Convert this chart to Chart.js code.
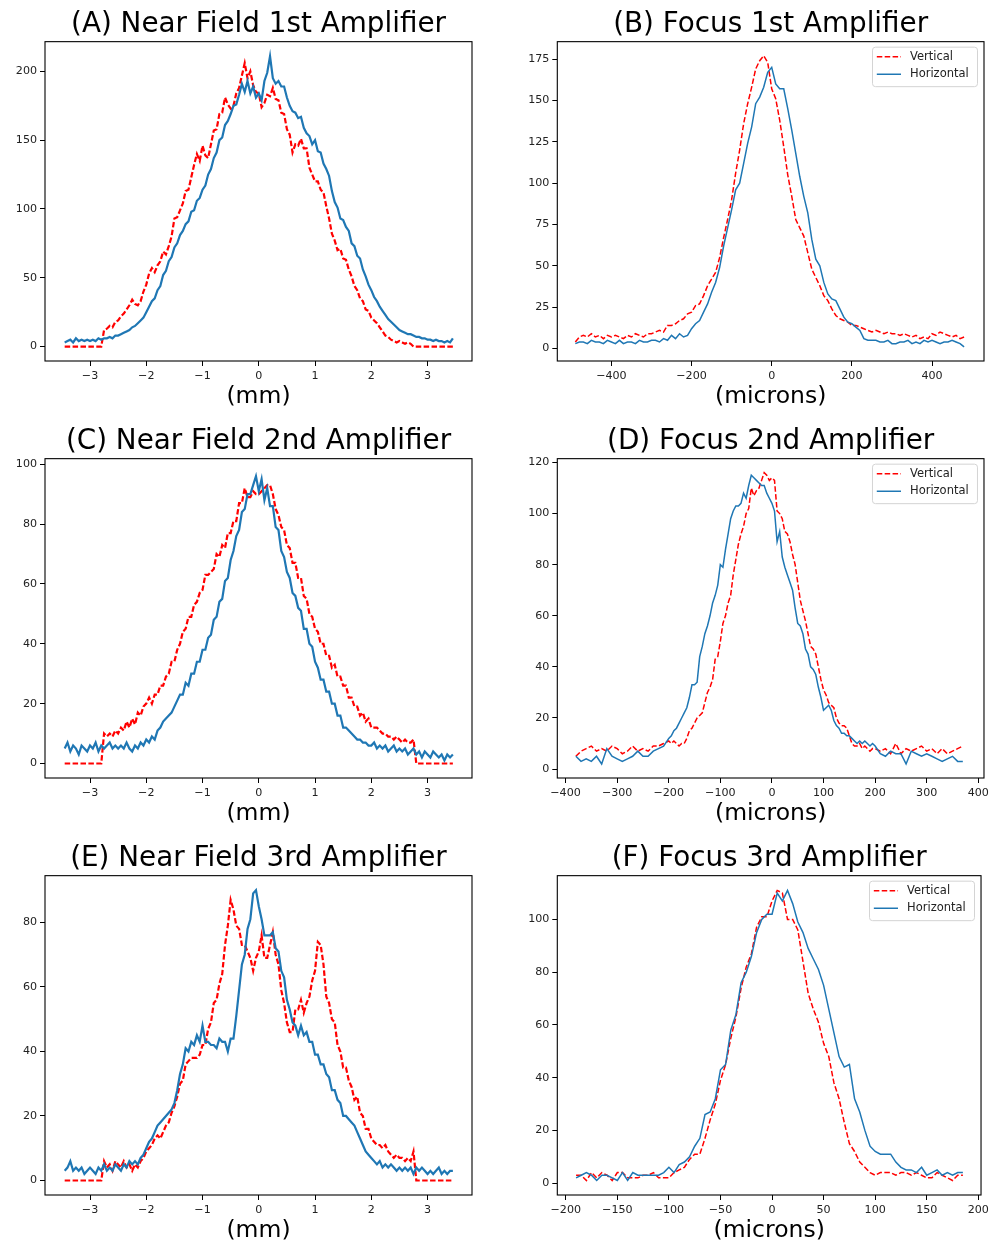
<!DOCTYPE html>
<html>
<head>
<meta charset="utf-8">
<script src="https://cdn.jsdelivr.net/npm/chart.js@4.4.1/dist/chart.umd.min.js"></script>
<style>
  html, body { margin: 0; padding: 0; background: #fff; }
  body { width: 992px; height: 1245px; overflow: hidden; position: relative; }
  canvas { position: absolute; }
</style>
</head>
<body>
<canvas id="pA"></canvas>
<canvas id="pB"></canvas>
<canvas id="pC"></canvas>
<canvas id="pD"></canvas>
<canvas id="pE"></canvas>
<canvas id="pF"></canvas>
<script>
// Beam profiles: near field (mm) and focus (microns) after each amplifier.
// Values.

const nearX = [
  -3.45,-3.4,-3.35,-3.3,-3.25,-3.2,-3.15,-3.1,-3.05,-3,
  -2.95,-2.9,-2.85,-2.8,-2.75,-2.7,-2.65,-2.6,-2.55,-2.5,
  -2.45,-2.4,-2.35,-2.3,-2.25,-2.2,-2.15,-2.1,-2.05,-2,
  -1.95,-1.9,-1.85,-1.8,-1.75,-1.7,-1.65,-1.6,-1.55,-1.5,
  -1.45,-1.4,-1.35,-1.3,-1.25,-1.2,-1.15,-1.1,-1.05,-1,
  -0.95,-0.9,-0.85,-0.8,-0.75,-0.7,-0.65,-0.6,-0.55,-0.5,
  -0.45,-0.4,-0.35,-0.3,-0.25,-0.2,-0.15,-0.1,-0.05,0,
  0.05,0.1,0.15,0.2,0.25,0.3,0.35,0.4,0.45,0.5,
  0.55,0.6,0.65,0.7,0.75,0.8,0.85,0.9,0.95,1,
  1.05,1.1,1.15,1.2,1.25,1.3,1.35,1.4,1.45,1.5,
  1.55,1.6,1.65,1.7,1.75,1.8,1.85,1.9,1.95,2,
  2.05,2.1,2.15,2.2,2.25,2.3,2.35,2.4,2.45,2.5,
  2.55,2.6,2.65,2.7,2.75,2.8,2.85,2.9,2.95,3,
  3.05,3.1,3.15,3.2,3.25,3.3,3.35,3.4,3.45
];

// (A) Near Field 1st Amplifier
const nearA_V = [
  0,0,0,0,0,0,0,0,0,0,
  0,0,0,0,12,13,15,14,18,19,
  22,24,27,30,34,31,30,33,40,45,
  53,57,54,59,62,69,67,73,80,93,
  94,99,104,113,114,123,132,140,135,146,
  139,137,147,157,158,169,170,181,176,173,
  175,184,188,197,206,195,200,190,185,184,
  174,177,183,182,188,180,179,170,169,158,
  154,141,147,146,151,144,144,130,125,120,
  120,114,112,102,93,82,77,70,71,64,
  63,56,51,44,41,35,33,27,26,21,
  19,17,14,11,8,7,5,4,3,4,
  3,2,3,2,0,0,0,0,0,0,
  0,0,0,0,0,0,0,0,0
];
const nearA_H = [
  3,4,5,3,6,4,5,4,5,4,
  5,4,6,5,6,6,7,6,8,8,
  9,10,11,12,14,15,17,19,21,25,
  29,33,35,41,44,52,55,62,65,72,
  75,81,84,89,91,98,99,106,108,114,
  117,125,129,137,141,150,152,161,164,169,
  175,176,183,191,185,193,184,189,181,184,
  179,193,199,211,195,191,193,189,189,181,
  175,171,170,166,167,159,155,153,147,150,
  142,141,133,129,124,113,105,101,93,92,
  87,84,75,73,66,64,56,51,45,41,
  36,33,29,26,23,20,18,16,14,12,
  11,10,9,9,8,7,7,6,6,5,
  5,4,5,4,4,3,4,3,6
];

// (C) Near Field 2nd Amplifier
const nearC_V = [
  0,0,0,0,0,0,0,0,0,0,
  0,0,0,0,10,9,10,9,11,10,
  12,11,14,12,15,13,17,16,19,20,
  22,20,23,23,26,26,29,30,34,34,
  38,40,44,45,49,49,53,54,57,58,
  63,63,64,65,70,69,73,72,77,77,
  81,81,87,87,92,89,89,91,90,90,
  91,92,93,93,90,85,83,79,78,73,
  72,67,67,62,62,56,55,50,49,45,
  44,40,40,36,36,32,33,29,29,26,
  26,22,22,19,19,16,17,14,15,12,
  12,12,11,10,10,9,9,8,9,8,
  7,8,7,7,8,0,0,0,0,0,
  0,0,0,0,0,0,0,0,0
];
const nearC_H = [
  5,7,4,6,5,3,6,5,4,6,
  5,7,4,6,5,6,7,5,6,5,
  6,5,7,5,4,6,5,7,6,8,
  7,9,8,11,12,14,15,16,17,19,
  21,23,23,27,26,30,30,34,34,38,
  38,42,43,48,49,54,55,61,62,68,
  71,76,78,84,85,90,90,93,96,91,
  95,88,92,86,86,79,78,71,69,64,
  62,57,56,52,51,45,45,40,39,34,
  32,28,28,24,24,20,20,16,16,12,
  12,11,10,9,8,8,7,7,6,6,
  7,5,6,5,6,4,5,6,4,5,
  4,5,3,4,5,3,4,2,4,3,
  2,4,3,2,3,1,3,2,3
];

// (E) Near Field 3rd Amplifier
const nearE_V = [
  0,0,0,0,0,0,0,0,0,0,
  0,0,0,0,6,4,5,3,6,5,
  4,6,4,5,3,5,4,6,7,9,
  10,11,13,14,13,15,17,18,21,23,
  26,30,31,36,37,38,38,38,39,42,
  42,47,49,55,56,61,64,73,79,87,
  84,79,78,73,73,71,69,65,69,71,
  76,69,69,73,77,70,67,59,55,49,
  46,46,53,53,56,52,55,57,62,65,
  74,73,67,57,55,50,49,42,40,35,
  35,31,29,25,26,21,20,16,16,13,
  12,11,11,10,11,9,8,7,8,7,
  7,6,7,6,9,0,0,0,0,0,
  0,0,0,0,0,0,0,0,0
];
const nearE_H = [
  3,4,6,3,4,3,4,2,3,4,
  3,2,4,3,5,3,4,3,5,4,
  3,5,4,6,5,6,5,7,8,10,
  12,13,15,17,18,19,20,21,22,24,
  28,33,36,41,40,43,42,45,43,48,
  43,43,42,42,41,44,43,43,40,44,
  44,51,59,67,70,78,81,89,90,85,
  81,76,76,76,77,72,71,65,63,56,
  53,49,48,45,48,45,46,43,43,39,
  39,36,36,33,32,28,28,25,24,20,
  20,19,18,17,15,13,11,9,8,7,
  6,5,6,4,5,4,5,4,3,4,
  3,4,3,4,2,4,3,4,3,2,
  3,2,3,4,2,3,2,3,3
];

// (B) Focus 1st Amplifier
const focusB_X = [
  -490,-480,-470,-460,-450,-440,-430,-420,-410,-400,
  -390,-380,-370,-360,-350,-340,-330,-320,-310,-300,
  -290,-280,-270,-260,-250,-240,-230,-220,-210,-200,
  -190,-180,-170,-160,-150,-140,-130,-120,-110,-100,
  -90,-80,-70,-60,-50,-40,-30,-20,-10,0,
  10,20,30,40,50,60,70,80,90,100,
  110,120,130,140,150,160,170,180,190,200,
  210,220,230,240,250,260,270,280,290,300,
  310,320,330,340,350,360,370,380,390,400,
  410,420,430,440,450,460,470,480
];
const focusB_V = [
  4,7,8,7,9,7,8,6,8,7,
  8,7,6,8,7,9,8,7,9,9,
  10,11,10,14,14,15,17,18,21,22,
  26,27,32,38,42,46,55,67,78,90,
  106,120,136,148,158,169,174,177,173,157,
  151,138,122,105,92,78,73,68,58,48,
  43,38,32,29,24,20,18,17,16,14,
  14,13,12,11,10,11,10,9,10,9,
  9,8,9,8,7,8,6,7,6,9,
  8,10,9,8,7,8,6,7
];
const focusB_H = [
  3,4,4,3,5,4,4,3,5,4,
  3,5,3,4,4,3,5,4,4,5,
  5,4,6,5,8,6,9,7,8,12,
  15,17,22,27,34,40,49,62,73,84,
  96,100,112,124,134,148,152,158,167,170,
  160,157,157,145,132,118,104,92,82,66,
  54,50,40,33,30,29,24,19,16,15,
  13,11,6,5,5,5,4,4,5,3,
  3,4,4,5,3,4,3,5,4,5,
  4,3,4,4,5,4,3,1
];

// (D) Focus 2nd Amplifier
const focusD_X = [
  -380,-370,-360,-350,-340,-330,-320,-310,-300,-290,-280,-270,-260,-250,-240,-230,-220,-210,-200,
  -195,-190,-185,-180,-175,-170,-165,-160,-155,-150,
  -145,-140,-135,-130,-125,-120,-115,-110,-105,-100,
  -95,-90,-85,-80,-75,-70,-65,-60,-55,-50,
  -45,-40,-35,-30,-25,-20,-15,-10,-5,0,
  5,10,15,20,25,30,35,40,45,50,
  55,60,65,70,75,80,85,90,95,100,
  105,110,115,120,125,130,135,140,145,150,
  155,160,165,170,175,180,185,190,195,
  200,210,220,230,240,250,260,270,280,290,300,310,320,330,340,350,360,370
];
const focusD_V = [
  5,7,8,9,7,8,7,9,8,6,7,9,7,8,7,9,9,10,11,
  10,11,10,9,10,10,12,15,16,18,
  20,21,22,26,30,32,35,43,44,50,
  57,60,65,68,76,82,88,92,95,100,
  102,110,107,109,110,113,116,115,113,114,
  113,101,100,98,93,92,89,84,80,73,
  66,62,58,53,48,47,45,40,35,31,
  29,26,25,24,20,18,17,17,16,13,
  10,9,9,10,8,9,8,7,8,
  8,7,8,6,10,6,8,7,8,9,7,8,6,8,6,7,8,9
];
const focusD_H = [
  5,3,4,3,5,2,8,5,4,3,4,5,7,5,5,7,8,9,12,
  13,15,16,18,20,22,24,28,33,33,
  34,44,48,53,56,60,65,68,72,80,
  79,86,92,98,101,103,103,104,108,106,
  111,115,114,113,112,111,111,108,106,104,
  101,89,93,83,79,76,73,70,63,57,
  56,53,47,45,40,39,37,32,28,23,
  24,25,23,19,17,16,14,14,13,13,
  12,11,10,11,10,11,10,9,10,
  9,6,5,7,6,6,2,7,6,5,6,5,4,3,4,5,3,3
];

// (F) Focus 3rd Amplifier
const focusF_X = [
  -190,-185,-180,-175,-170,-165,-160,-155,-150,-145,
  -140,-135,-130,-125,-120,-115,-110,-105,-100,-95,
  -90,-85,-80,-75,-70,-65,-60,-55,-50,-45,
  -40,-35,-30,-25,-20,-15,-10,-5,0,5,
  10,15,20,25,30,35,40,45,50,55,
  60,65,70,75,80,85,90,95,100,105,
  110,115,120,125,130,135,140,145,150,155,
  160,165,170,175,180,185
];
const focusF_V = [
  3,3,1,4,2,4,3,1,4,4,
  2,2,2,3,3,4,2,2,2,4,
  5,6,9,11,11,17,24,30,39,45,
  55,63,74,82,87,97,101,101,107,111,
  110,100,100,96,84,72,66,61,53,48,
  38,32,23,15,12,8,6,4,3,4,
  4,4,3,4,4,3,4,3,2,2,
  4,3,2,1,3,3
];
const focusF_H = [
  2,3,4,3,1,3,3,2,1,4,
  1,4,3,3,3,3,3,4,6,4,
  7,8,10,14,17,26,27,32,43,45,
  58,64,76,80,86,95,100,102,102,110,
  107,111,106,99,95,89,85,81,75,66,
  57,48,44,45,32,27,20,14,12,11,
  11,11,8,6,5,5,4,6,3,4,
  5,3,4,3,4,4
];

// tick labels
const nearXTicks = [-3, -2, -1, 0, 1, 2, 3];
const aYTicks = [0, 50, 100, 150, 200];
const cYTicks = [0, 20, 40, 60, 80, 100];
const eYTicks = [0, 20, 40, 60, 80];
const bXTicks = [-400, -200, 0, 200, 400];
const bYTicks = [0, 25, 50, 75, 100, 125, 150, 175];
const dXTicks = [-400, -300, -200, -100, 0, 100, 200, 300, 400];
const dYTicks = [0, 20, 40, 60, 80, 100, 120];
const fXTicks = [-200, -150, -100, -50, 0, 50, 100, 150, 200];
const fYTicks = [0, 20, 40, 60, 80, 100];

const fontFamily = "'DejaVu Sans', sans-serif";
const red  = '#ff0000';
const blue = '#1f77b4';
const inkColor = '#222';

Chart.defaults.font.family = fontFamily;
Chart.defaults.color = inkColor;

const fmt = v => (v < 0 ? '\u2212' + Math.abs(v) : String(v));

// matplotlib-style box round the axes
const framePlugin = {
    id: 'frame',
    afterDatasetsDraw(chart) {
        const { ctx, chartArea: a } = chart;
        ctx.save();
        ctx.strokeStyle = '#000';
        ctx.lineWidth = 1.1;
        ctx.strokeRect(a.left, a.top, a.right - a.left, a.bottom - a.top);
        ctx.restore();
    }
};

// small legend in the upper right corner, line samples like matplotlib
const legendPlugin = {
    id: 'mplLegend',
    afterDraw(chart, args, opts) {
        if (!opts.show) return;
        const { ctx, chartArea: a } = chart;
        const w = 105, h = 39.5;
        const x0 = a.right - 6.5 - w, y0 = a.top + 5.5;
        ctx.save();
        ctx.beginPath();
        ctx.roundRect(x0, y0, w, h, 3);
        ctx.fillStyle = 'rgba(255,255,255,0.8)';
        ctx.fill();
        ctx.strokeStyle = '#d4d4d4';
        ctx.lineWidth = 1;
        ctx.stroke();
        ctx.font = '11.5px ' + fontFamily;
        ctx.textBaseline = 'middle';
        chart.data.datasets.forEach((ds, i) => {
            const y = y0 + 9.5 + i * 17.6;
            ctx.beginPath();
            ctx.setLineDash(ds.borderDash || []);
            ctx.strokeStyle = ds.borderColor;
            ctx.lineWidth = 1.5;
            ctx.moveTo(x0 + 4.3, y);
            ctx.lineTo(x0 + 28.5, y);
            ctx.stroke();
            ctx.setLineDash([]);
            ctx.fillStyle = inkColor;
            ctx.fillText(ds.label, x0 + 37.5, y);
        });
        ctx.restore();
    }
};

const panels = [
    { id: 'pA', row: 0, col: 0, title: '(A) Near Field 1st Amplifier', xLabel: '(mm)',
      xs: nearX, v: nearA_V, h: nearA_H, x: [-3.8, 3.79], y: [-10.5, 221.6],
      xt: nearXTicks, yt: aYTicks, lw: 2.2, legend: false },
    { id: 'pB', row: 0, col: 1, title: '(B) Focus 1st Amplifier', xLabel: '(microns)',
      xs: focusB_X, v: focusB_V, h: focusB_H, x: [-535, 529.7], y: [-7.5, 185.5],
      xt: bXTicks, yt: bYTicks, lw: 1.5, legend: true },
    { id: 'pC', row: 1, col: 0, title: '(C) Near Field 2nd Amplifier', xLabel: '(mm)',
      xs: nearX, v: nearC_V, h: nearC_H, x: [-3.8, 3.79], y: [-4.85, 101.85],
      xt: nearXTicks, yt: cYTicks, lw: 2.2, legend: false },
    { id: 'pD', row: 1, col: 1, title: '(D) Focus 2nd Amplifier', xLabel: '(microns)',
      xs: focusD_X, v: focusD_V, h: focusD_H, x: [-416, 411], y: [-3.5, 121.5],
      xt: dXTicks, yt: dYTicks, lw: 1.5, legend: true },
    { id: 'pE', row: 2, col: 0, title: '(E) Near Field 3rd Amplifier', xLabel: '(mm)',
      xs: nearX, v: nearE_V, h: nearE_H, x: [-3.8, 3.79], y: [-4.5, 94.5],
      xt: nearXTicks, yt: eYTicks, lw: 2.2, legend: false },
    { id: 'pF', row: 2, col: 1, title: '(F) Focus 3rd Amplifier', xLabel: '(microns)',
      xs: focusF_X, v: focusF_V, h: focusF_H, x: [-208.2, 202.6], y: [-4.5, 116.6],
      xt: fXTicks, yt: fYTicks, lw: 1.5, legend: true }
];

const rowTops = [0, 417.3, 834.3];

function axisCommon(ticks) {
    return {
        type: 'linear',
        afterBuildTicks: s => { s.ticks = ticks.map(v => ({ value: v })); },
        grid: { drawOnChartArea: false, drawTicks: true, tickLength: 5, color: '#000', lineWidth: 1 },
        border: { display: false },
        ticks: { font: { size: 11.1 }, color: inkColor, padding: 3, callback: fmt, autoSkip: false, maxRotation: 0 }
    };
}

panels.forEach(p => {
    const cv = document.getElementById(p.id);
    cv.width = 496;
    cv.height = 411;
    cv.style.left = (p.col ? 496 : 0) + 'px';
    cv.style.top = rowTops[p.row] + 'px';

    new Chart(cv, {
        type: 'line',
        data: {
            datasets: [
                {
                    label: 'Vertical',
                    data: p.xs.map((x, i) => ({ x, y: p.v[i] })),
                    borderColor: red,
                    borderDash: [5.5, 2.4],
                    borderWidth: p.lw,
                    pointRadius: 0,
                    tension: 0,
                    order: 1
                },
                {
                    label: 'Horizontal',
                    data: p.xs.map((x, i) => ({ x, y: p.h[i] })),
                    borderColor: blue,
                    borderWidth: p.lw,
                    pointRadius: 0,
                    tension: 0,
                    order: 0
                }
            ]
        },
        options: {
            responsive: false,
            animation: false,
            devicePixelRatio: 1,
            layout: { padding: { left: 0, right: p.col ? 8 : 24, top: 0, bottom: 0 } },
            plugins: {
                legend: { display: false },
                tooltip: { enabled: false },
                title: {
                    display: true,
                    text: p.title,
                    fullSize: false,
                    color: '#000',
                    font: { size: 27.8, weight: 'normal' },
                    padding: { top: 8.3, bottom: 0 }
                },
                mplLegend: { show: p.legend }
            },
            scales: {
                x: {
                    ...axisCommon(p.xt),
                    min: p.x[0], max: p.x[1],
                    afterFit: s => { s.height = 411 - 361; },
                    title: { display: true, text: p.xLabel, color: '#000', font: { size: 23.5 }, padding: { top: 0, bottom: 0 } }
                },
                y: {
                    ...axisCommon(p.yt),
                    min: p.y[0], max: p.y[1],
                    afterFit: s => { s.width = p.col ? 61.3 : 45; }
                }
            }
        },
        plugins: [framePlugin, legendPlugin]
    });
});
</script>
</body>
</html>
